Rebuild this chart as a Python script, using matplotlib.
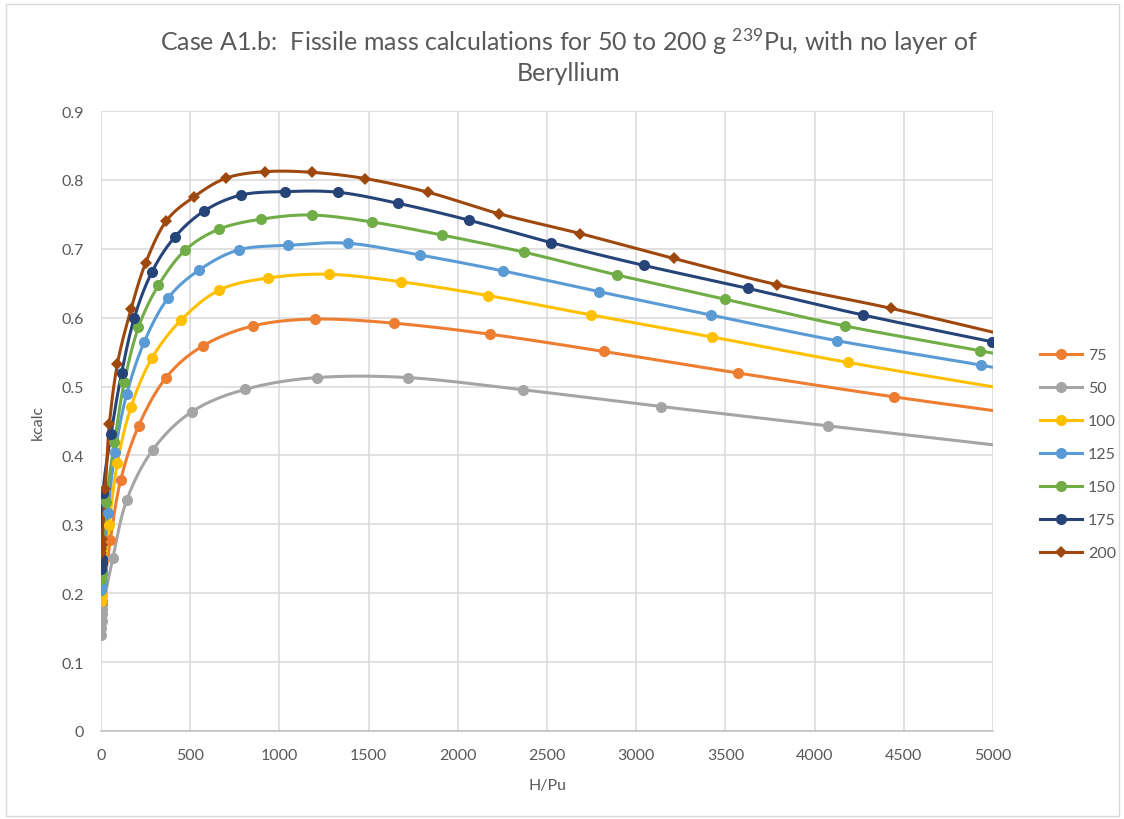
import numpy as np
import matplotlib
matplotlib.use('Agg')
import matplotlib.pyplot as plt
from matplotlib.patches import Rectangle

plt.rcParams['font.family'] = ['Lato', 'DejaVu Sans']

# H/Pu and kcalc for each 239Pu mass (g)
h_75 = [0.5, 2, 4, 7, 52, 110, 211, 365, 571, 852, 1198, 1642, 2180, 2818, 3571, 4446, 5350]
k_75 = [0.176, 0.180, 0.184, 0.188, 0.277, 0.364, 0.443, 0.513, 0.559, 0.588, 0.598, 0.592, 0.576, 0.551, 0.5196, 0.485, 0.453]

h_50 = [0.5, 1.5, 3, 5, 8, 66, 144, 290, 509, 809, 1208, 1721, 2363, 3140, 4073, 5250]
k_50 = [0.140, 0.150, 0.160, 0.170, 0.177, 0.2506, 0.335, 0.408, 0.4634, 0.496, 0.513, 0.513, 0.4954, 0.471, 0.443, 0.408]

h_100 = [0.5, 2, 4, 7, 45, 92, 169, 285, 449, 663, 934, 1277, 1684, 2172, 2747, 3425, 4189, 5050]
k_100 = [0.189, 0.193, 0.197, 0.202, 0.299, 0.389, 0.471, 0.541, 0.5965, 0.640, 0.6575, 0.663, 0.652, 0.632, 0.604, 0.572, 0.535, 0.4975]

h_125 = [0.5, 2, 4, 7, 38, 79, 144, 243, 375, 552, 775, 1049, 1386, 1787, 2251, 2794, 3421, 4127, 4934, 5750]
k_125 = [0.205, 0.209, 0.213, 0.218, 0.317, 0.405, 0.489, 0.565, 0.628, 0.6695, 0.6986, 0.705, 0.708, 0.691, 0.668, 0.6376, 0.6038, 0.5665, 0.531, 0.492]

h_150 = [0.5, 2, 4, 7, 30, 75, 131, 210, 322, 472, 663, 899, 1180, 1517, 1910, 2373, 2893, 3496, 4170, 4929, 5700]
k_150 = [0.220, 0.224, 0.228, 0.232, 0.332, 0.419, 0.507, 0.586, 0.647, 0.698, 0.7286, 0.743, 0.749, 0.739, 0.720, 0.695, 0.662, 0.627, 0.588, 0.552, 0.513]

h_175 = [0.5, 2, 4, 7, 12, 56, 115, 187, 285, 412, 579, 785, 1030, 1330, 1665, 2060, 2522, 3041, 3627, 4273, 4995]
k_175 = [0.235, 0.239, 0.244, 0.250, 0.346, 0.431, 0.519, 0.600, 0.666, 0.7165, 0.755, 0.778, 0.783, 0.782, 0.766, 0.7417, 0.709, 0.676, 0.6425, 0.6038, 0.565]

h_200 = [0.5, 2, 4, 7, 24, 47, 92, 169, 251, 365, 519, 702, 921, 1180, 1479, 1835, 2229, 2687, 3210, 3787, 4429, 5120]
k_200 = [0.258, 0.264, 0.270, 0.279, 0.351, 0.445, 0.533, 0.613, 0.680, 0.740, 0.775, 0.8026, 0.812, 0.811, 0.802, 0.782, 0.751, 0.722, 0.686, 0.648, 0.6135, 0.5715]

labels = ['75', '50', '100', '125', '150', '175', '200']
series_h = [h_75, h_50, h_100, h_125, h_150, h_175, h_200]
series_k = [k_75, k_50, k_100, k_125, k_150, k_175, k_200]
colors = ['#ED7D31', '#A5A5A5', '#FFC000', '#5B9BD5', '#70AD47', '#264478', '#9E480E']
markers = ['o', 'o', 'o', 'o', 'o', 'o', 'D']


def smooth(x, y, sx=892 / 5000, sy=620 / 0.9, n=20):
    # Bezier smoothing through the points (like a spreadsheet "smoothed line")
    p = np.column_stack([np.asarray(x) * sx, np.asarray(y) * sy])
    pp = np.vstack([p[0], p, p[-1]])
    t = np.linspace(0, 1, n)[:, None]
    out = [p[:1]]
    for i in range(len(p) - 1):
        p0, p3 = pp[i + 1], pp[i + 2]
        p1 = p0 + (pp[i + 2] - pp[i]) / 6
        p2 = p3 - (pp[i + 3] - pp[i + 1]) / 6
        seg = ((1 - t) ** 3 * p0 + 3 * (1 - t) ** 2 * t * p1
               + 3 * (1 - t) * t ** 2 * p2 + t ** 3 * p3)
        out.append(seg[1:])
    c = np.vstack(out)
    return c[:, 0] / sx, c[:, 1] / sy


fig = plt.figure(figsize=(11.24, 8.2), dpi=100)
ax = fig.add_axes([101 / 1124, 1 - 732 / 820, 892 / 1124, 620 / 820])

for h, k, lab, col, m in zip(series_h, series_k, labels, colors, markers):
    xs, ys = smooth(h, k)
    ax.plot(xs, ys, color=col, linewidth=2.2, zorder=3)
    ms = 6.5 if m == 'D' else 8
    ax.plot(h, k, linestyle='none', marker=m, markersize=ms, color=col,
            markeredgewidth=0, zorder=4)
    ax.plot([], [], color=col, linewidth=2.2, marker=m, markersize=ms,
            markeredgewidth=0, label=lab)

ax.set_xlim(0, 5000)
ax.set_ylim(0, 0.9)
ax.set_xticks(np.arange(0, 5001, 500))
ax.set_yticks(np.arange(0, 0.91, 0.1))
ax.set_yticklabels(['0', '0.1', '0.2', '0.3', '0.4', '0.5', '0.6', '0.7', '0.8', '0.9'])
ax.grid(True, color='#D9D9D9', linewidth=1.1)
ax.set_axisbelow(True)
for s in ['top', 'right', 'left']:
    ax.spines[s].set_visible(False)
ax.spines['bottom'].set_color('#BFBFBF')
ax.spines['bottom'].set_linewidth(1.1)
ax.tick_params(length=0, labelsize=11.5, labelcolor='#595959', pad=12)

ax.set_xlabel('H/Pu', fontsize=11.5, color='#595959', labelpad=12)
ax.set_ylabel('kcalc', fontsize=11.5, color='#595959', labelpad=12)

fig.text(569 / 1124, 1 - 56 / 820,
         'Case A1.b:  Fissile mass calculations for 50 to 200 g $\\mathregular{^{239}}$Pu, with no layer of\nBeryllium',
         ha='center', va='center', fontsize=18, color='#595959', linespacing=1.25)

fig.legend(loc='upper left', bbox_to_anchor=(1040 / 1124, 1 - 349 / 820),
           frameon=False, fontsize=11.5, labelcolor='#595959',
           handlelength=2.6, handletextpad=0.4, labelspacing=1.18,
           borderpad=0, borderaxespad=0)

fig.patches.append(Rectangle((6 / 1124, 3 / 820), 1113 / 1124, 812 / 820,
                             transform=fig.transFigure, fill=False,
                             edgecolor='#D9D9D9', linewidth=1))

fig.savefig('out.png', dpi=100)
